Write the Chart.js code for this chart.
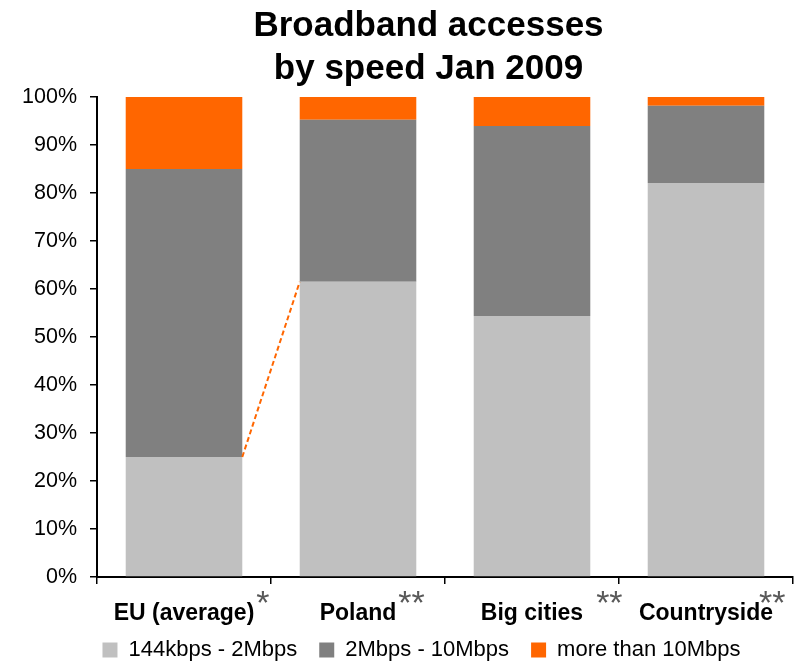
<!DOCTYPE html>
<html>
<head>
<meta charset="utf-8">
<script src="https://cdn.jsdelivr.net/npm/chart.js@4/dist/chart.umd.min.js"></script>
<style>
  html, body { margin: 0; padding: 0; background: #fff; }
  .vis-container { width: 802px; height: 661px; }
</style>
</head>
<body>
<div class="vis-container"><canvas id="vis"></canvas></div>
<script>

// categories + footnote marks
const categories = ['EU (average)', 'Poland', 'Big cities', 'Countryside'];
const notes = ['*', '**', '**', '**'];

// shares in % (stacked to 100)
const low_speed  = [25, 61.5, 54.4, 82.1];   // 144kbps - 2Mbps
const mid_speed  = [60, 33.8, 39.6, 16.1];   // 2Mbps - 10Mbps
const high_speed = [15, 4.7, 6.0, 1.8];      // more than 10Mbps

const series_names = ['144kbps - 2Mbps', '2Mbps - 10Mbps', 'more than 10Mbps'];
const title_lines = ['Broadband accesses', 'by speed Jan 2009'];

const font_family = "'Liberation Sans', Arial, sans-serif";

// horizontal nudge of the asterisks after each label
const note_gap = [2, 2, 13, -14];

const legend_h = 34;

// dashed orange "series line" between the first two bars
const seriesLine = {
    id: 'seriesLine',
    afterDatasetsDraw(chart) {
        const meta = chart.getDatasetMeta(0);
        const a = meta.data[0];
        const b = meta.data[1];
        const ctx = chart.ctx;
        ctx.save();
        ctx.strokeStyle = '#FF6600';
        ctx.lineWidth = 2;
        ctx.setLineDash([5, 3]);
        ctx.beginPath();
        ctx.moveTo(a.x + a.width / 2, a.y);
        ctx.lineTo(b.x - b.width / 2, b.y);
        ctx.stroke();
        ctx.restore();
    }
};

// grey asterisks after the category labels
const footnotes = {
    id: 'footnotes',
    afterDraw(chart) {
        const x = chart.scales.x;
        const ctx = chart.ctx;
        ctx.save();
        ctx.font = 'bold 23px ' + font_family;
        const widths = categories.map(c => ctx.measureText(c).width);
        ctx.font = '34px ' + font_family;
        ctx.fillStyle = '#595959';
        ctx.textAlign = 'left';
        ctx.textBaseline = 'alphabetic';
        notes.forEach((n, i) => {
            const cx = x.getPixelForTick(i);
            ctx.fillText(n, cx + widths[i] / 2 + note_gap[i], chart.chartArea.bottom + 37);
        });
        ctx.restore();
    }
};

// squeeze legend height and nudge legend / title boxes like the original
const boxTweaks = {
    id: 'boxTweaks',
    beforeLayout(chart) {
        const lg = chart.legend;
        if (lg && !lg._patched) {
            const fit = lg.fit;
            lg.fit = function () { fit.call(this); this.height = legend_h; };
            lg._patched = true;
        }
    },
    afterLayout(chart) {
        const lg = chart.legend;
        lg.left = 50;
        lg.top = chart.height - 44;
        const t = chart.titleBlock;
        t.left = 64;
    }
};

const chart = new Chart(document.getElementById('vis'), {
    type: 'bar',
    data: {
        labels: categories,
        datasets: [
            { label: series_names[0], data: low_speed,  backgroundColor: '#C0C0C0' },
            { label: series_names[1], data: mid_speed,  backgroundColor: '#808080' },
            { label: series_names[2], data: high_speed, backgroundColor: '#FF6600' }
        ]
    },
    options: {
        responsive: true,
        maintainAspectRatio: false,
        animation: false,
        datasets: {
            bar: { barPercentage: 0.67, categoryPercentage: 1 }
        },
        layout: { padding: { left: 10, right: 9, top: 0, bottom: 0 } },
        scales: {
            x: {
                stacked: true,
                offset: true,
                grid: { drawOnChartArea: false, drawTicks: true, tickLength: 7, color: '#000', lineWidth: 1.5, offset: true },
                border: { color: '#000', width: 2 },
                ticks: { color: '#000', font: { family: font_family, size: 23, weight: 'bold' }, padding: 16, maxRotation: 0 },
                afterFit(scale) { scale.height = 50; }
            },
            y: {
                stacked: true,
                min: 0,
                max: 100,
                grid: { drawOnChartArea: false, drawTicks: true, tickLength: 7, color: '#000', lineWidth: 1.5 },
                border: { color: '#000', width: 2 },
                ticks: {
                    stepSize: 10,
                    color: '#000',
                    padding: 13,
                    font: { family: font_family, size: 21.5 },
                    callback: v => v + '%'
                },
                afterFit(scale) { scale.width = 87; }
            }
        },
        plugins: {
            title: {
                display: true,
                text: title_lines,
                color: '#000',
                font: { family: font_family, size: 35, weight: 'bold', lineHeight: 1.23 },
                padding: { top: 5, bottom: 6 }
            },
            legend: {
                position: 'bottom',
                labels: {
                    color: '#000',
                    boxWidth: 15,
                    boxHeight: 15,
                    padding: 22,
                    font: { family: font_family, size: 22 }
                }
            },
            tooltip: { enabled: false }
        }
    },
    plugins: [seriesLine, footnotes, boxTweaks]
});

</script>
</body>
</html>
